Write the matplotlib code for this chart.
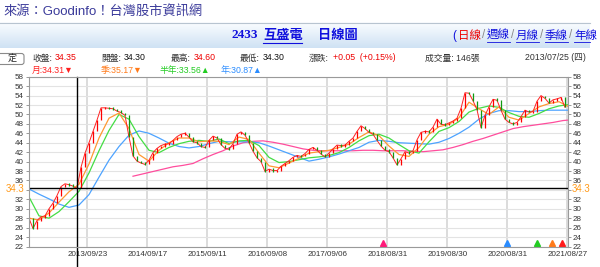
import numpy as np
import matplotlib.pyplot as plt
from matplotlib.colors import LinearSegmentedColormap
from matplotlib.patches import FancyBboxPatch, Rectangle

plt.rcParams['font.family'] = ['Liberation Sans', 'Noto Sans CJK TC', 'DejaVu Sans']

# --- data ---
n_days = 2156            # trading days shown
candle_step = 16         # one candle every 16 trading days
ma_step = 40
pink_start = 418
cross_day = 195
cross_price = 34.3

close = [
    28.0, 25.8, 27.5, 28.3, 28.5, 30.0, 31.2, 32.8, 34.7, 35.3,
    35.1, 34.8, 34.3, 38.8, 41.8, 44.0, 46.4, 48.8, 51.4, 51.4,
    51.3, 51.2, 50.7, 50.4, 49.8, 45.2, 41.2, 40.1, 39.7, 39.4,
    40.3, 41.9, 42.8, 43.4, 43.7, 43.8, 44.5, 45.3, 45.8, 46.0,
    45.2, 44.2, 44.0, 43.2, 43.0, 44.5, 45.4, 45.0, 43.6, 42.8,
    42.6, 43.8, 45.8, 46.3, 45.6, 44.0, 42.2, 40.8, 40.0, 37.9,
    38.4, 38.1, 38.1, 39.0, 39.6, 40.2, 40.9, 41.3, 41.1, 41.7,
    42.6, 43.0, 42.4, 41.6, 41.0, 41.8, 42.7, 43.5, 43.4, 43.5,
    44.3, 45.0, 46.4, 47.6, 47.0, 46.2, 45.8, 44.5, 43.3, 42.4,
    42.1, 40.8, 39.3, 40.6, 42.1, 41.8, 42.3, 44.6, 46.2, 46.4,
    46.3, 47.3, 49.0, 47.9, 47.8, 48.2, 48.6, 49.2, 51.3, 54.6,
    54.5, 52.9, 51.0, 47.2, 49.8, 51.6, 53.2, 53.0, 50.9, 49.0,
    48.3, 48.0, 48.3, 49.5, 50.9, 50.5, 50.6, 52.8, 54.0, 53.4,
    52.4, 53.1, 53.3, 53.6, 51.5,
]

ma_quarter = [
    28.0, 27.6, 29.1, 31.4, 33.6, 35.2, 39.5, 45.0, 49.2, 50.3,
    47.0, 41.5, 40.1, 42.4, 44.0, 45.0, 45.0, 44.2, 44.4, 44.3,
    43.6, 45.2, 44.7, 41.8, 39.1, 38.7, 39.7, 40.7, 41.8, 42.1,
    42.4, 43.0, 43.7, 45.1, 46.3, 45.5, 43.3, 41.5, 41.1, 43.0,
    45.8, 47.4, 47.9, 49.3, 52.6, 51.2, 50.0, 51.6, 49.4, 48.8,
    50.2, 51.6, 52.3, 52.7, 51.6,
]

ma_half = [
    32.5, 28.5, 28.0, 29.4, 31.5, 33.7, 37.6, 42.3, 46.6, 50.0,
    49.0, 45.3, 42.4, 41.9, 43.0, 43.8, 44.3, 44.5, 44.3, 44.8,
    43.8, 44.4, 44.5, 43.4, 40.9, 39.8, 40.0, 40.4, 40.8, 41.0,
    41.3, 41.9, 43.0, 44.4, 45.5, 45.8, 45.0, 43.6, 42.3, 41.8,
    44.2, 46.4, 47.2, 48.5, 50.5, 51.3, 51.8, 51.5, 50.4, 49.6,
    49.4, 50.2, 51.2, 51.8, 52.1,
]

ma_year = [
    34.2, 33.1, 32.1, 31.0, 30.3, 30.8, 33.0, 36.7, 40.3, 43.2,
    45.6, 46.5, 46.0, 45.0, 43.9, 43.2, 42.9, 43.2, 43.8, 44.3,
    44.2, 44.2, 44.2, 44.0, 43.3, 42.5, 41.7, 40.9, 40.1, 40.5,
    41.0, 41.6, 42.3, 43.0, 44.1, 44.5, 44.3, 44.0, 43.9, 43.8,
    43.7, 44.1, 44.9, 46.0, 47.3, 49.0, 50.2, 50.8, 50.8, 50.6,
    50.6, 50.8, 50.9, 50.9, 50.9,
]

ma_long = [
    36.9, 37.4, 37.9, 38.4, 38.9, 39.2, 39.6, 40.6, 41.5, 42.3,
    43.3, 44.0, 44.3, 44.4, 44.1, 43.7, 43.2, 42.7, 42.4, 42.3,
    42.3, 42.3, 42.3, 42.4, 42.4, 42.3, 42.3, 42.3, 42.2, 42.1,
    42.3, 42.5, 43.0, 43.6, 44.3, 44.9, 45.6, 46.3, 47.0, 47.4,
    47.7, 48.0, 48.3, 48.7, 48.9,
]

ma_windows = [20, 60, 120, 240, 736]
ma_colors = ['#ff1a1a', '#ff7a1a', '#22cc22', '#2a8cff', '#ff1a7a']

tick_labels = ['2013/09/23', '2014/09/17', '2015/09/11', '2016/09/08', '2017/09/06',
               '2018/08/31', '2019/08/30', '2020/08/31', '2021/08/27']

fig = plt.figure(figsize=(6, 2.67), dpi=100)

# background / header drawn in pixel coordinates
bg = fig.add_axes([0, 0, 1, 1])
bg.axis('off')
grad = np.linspace(0, 1, 50).reshape(-1, 1)
cmap = LinearSegmentedColormap.from_list('hdr', ['#fbfdff', '#cfe2f4'])
bg.imshow(grad, extent=[0, 590, 48.5, 22.5], aspect='auto', cmap=cmap, zorder=0)
bg.plot([0, 590], [22.5, 22.5], color='#b8c4d0', lw=0.8)
bar = Rectangle((0, 22.5), 590, 26, transform=bg.transData, fill=False, lw=0)
bg.add_patch(bar)
bg.set_xlim(0, 600)
bg.set_ylim(267, 0)

bg.text(3, 11, '來源：Goodinfo！台灣股市資訊網', fontsize=9.5, color='#3a3a9a', va='center')

bg.text(231, 35.5, '2433', fontsize=9.5, fontweight='bold', color='#1010dd',
        family=['Liberation Serif', 'DejaVu Serif'], va='center')
bg.text(263, 35.5, '互盛電', fontsize=9.5, fontweight='bold', color='#1010dd', va='center')
bg.plot([263, 302], [43, 43], color='#1010dd', lw=0.8)
bg.text(318, 35.5, '日線圖', fontsize=9.5, fontweight='bold', color='#1010dd', va='center')

links = [('(', 452, '#1010dd', False), ('日線', 458, '#ee0000', False), ('/', 482, '#888888', False),
         ('週線', 487, '#1010dd', True), ('/', 511, '#888888', False), ('月線', 516, '#1010dd', True),
         ('/', 540, '#888888', False), ('季線', 545, '#1010dd', True), ('/', 569, '#888888', False),
         ('年線', 574, '#1010dd', True)]
for s, x, c, ul in links:
    t = bg.text(x, 35.5, s, fontsize=8.3, color=c, va='center')
    t.set_clip_path(bar)
    if ul:
        bg.plot([x, min(x + 23, 590)], [42, 42], color=c, lw=0.6)

# button
bg.add_patch(FancyBboxPatch((-10, 53.5), 34, 11, boxstyle='round,pad=0,rounding_size=2.5',
                            fc='white', ec='#8a8a8a', lw=0.8))
bg.text(8, 59, '定', fontsize=6.5, color='#222222', va='center')

# info row
def info(x, s, c='#333333'):
    bg.text(x, 58, s, fontsize=6.3, color=c, va='center')

info(32, '收盤:'); info(55, '34.35', '#ee0000')
info(101, '開盤:'); info(124, '34.30', '#111111')
info(171, '最高:'); info(194, '34.60', '#ee0000')
info(240, '最低:'); info(263, '34.30', '#111111')
info(309, '漲跌:'); info(333, '+0.05  (+0.15%)', '#ee0000')
info(425, '成交量: 146張')
info(525, '2013/07/25 (四)')

row2 = [('月:34.31▼', 32, '#ff2020'), ('季:35.17▼', 101, '#ff7a1a'),
        ('半年:33.56▲', 160, '#22cc22'), ('年:30.87▲', 221, '#2a8cff')]
for s, x, c in row2:
    bg.text(x, 70.5, s, fontsize=6.3, color=c, va='center')

# crosshair value labels at both sides
bg.text(15, 188.5, '34.3', color='#ff9a1a', fontsize=7, ha='center', va='center')
bg.text(581, 188.5, '34.3', color='#ff9a1a', fontsize=7, ha='center', va='center')

# chart
ax = fig.add_axes([28.5 / 600, 20.5 / 267, 539 / 600, 169.8 / 267])
ax.set_xlim(0, n_days)
ax.set_ylim(22, 58)
ax.set_facecolor('white')

yt = np.arange(22, 59, 2)
ax.set_yticks(yt)
ax.set_yticklabels(['' if v == 34 else str(v) for v in yt])
xt = [n_days - 1 - 240 * i for i in range(len(tick_labels))][::-1]
ax.set_xticks(xt)
ax.set_xticklabels(tick_labels)
ax.tick_params(axis='y', labelleft=True, labelright=True, left=True, right=True,
               length=2, width=0.6, color='#888888', labelsize=5.8, pad=1.5, labelcolor='#333333')
ax.tick_params(axis='x', length=0, labelsize=5.8, pad=3, labelcolor='#333333')
ax.grid(axis='y', color='#e3e3e3', lw=0.8)
ax.grid(axis='x', color='#dcdcdc', lw=1.4)
ax.set_axisbelow(True)
for sp in ax.spines.values():
    sp.set_color('#9a9a9a')
    sp.set_linewidth(0.8)

ma_x = 2 + ma_step * np.arange(len(ma_year))
ax.plot(pink_start + ma_step * np.arange(len(ma_long)), ma_long, color='#ff4d9d', lw=0.9)
ax.plot(ma_x, ma_year, color='#4da3ff', lw=0.9)
ax.plot(ma_x, ma_half, color='#44dd44', lw=0.9)
ax.plot(ma_x, ma_quarter, color='#ff9933', lw=0.9)

cx = 2 + candle_step * np.arange(len(close))
c = np.array(close)
o = np.concatenate([[c[0]], c[:-1]])
ax.plot(cx, c, color='#ff2222', lw=0.7)
lo = np.minimum(o, c)
hi = np.maximum(o, c)
short = (hi - lo) < 0.35
lo = np.where(short, lo - 0.2, lo)
hi = np.where(short, hi + 0.2, hi)
cols = ['#ff0000' if cc >= oo else '#119911' for cc, oo in zip(c, o)]
ax.vlines(cx, lo, hi, colors=cols, lw=0.9)

# crosshair
ax.axhline(cross_price, color='black', lw=1)
ax.plot([cross_day, cross_day], [58, 17.3], color='black', lw=1, clip_on=False)

# MA markers on the bottom axis
for w, col in zip(ma_windows, ma_colors):
    ax.plot(n_days - 1 - w, 22.65, marker='^', ms=4.5, color=col, mec=col, clip_on=False)

fig.savefig('out.png', dpi=100)
